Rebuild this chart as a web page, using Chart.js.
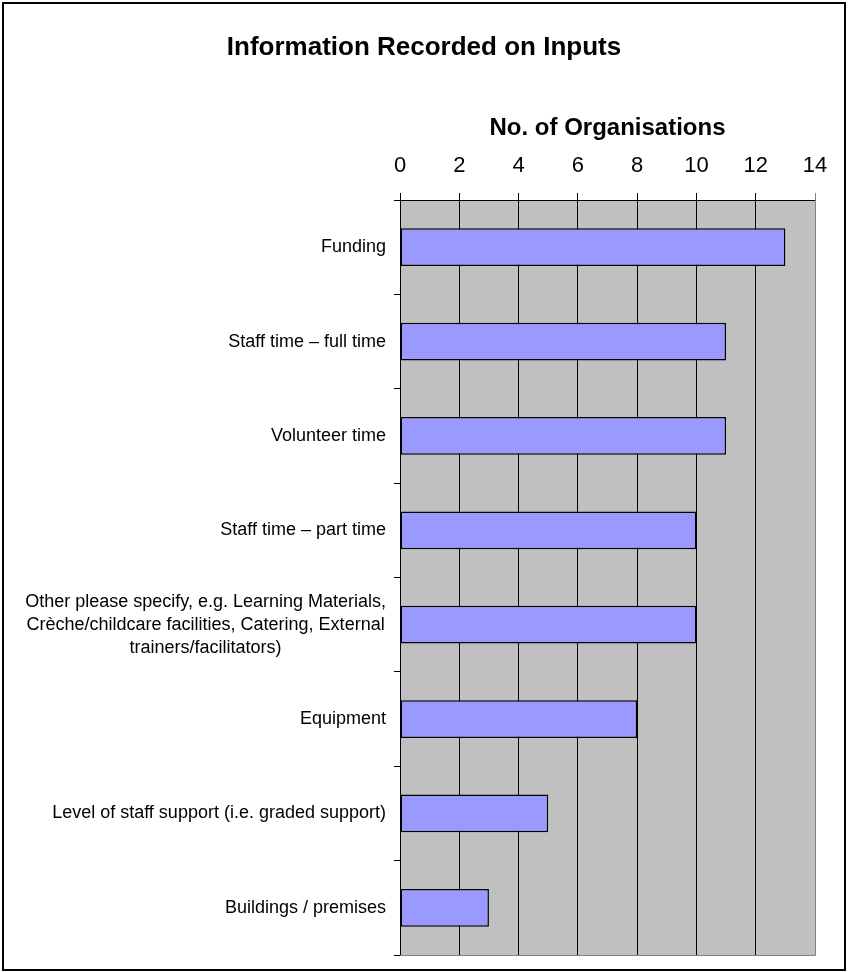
<!DOCTYPE html>
<html>
<head>
<meta charset="utf-8">
<title>Information Recorded on Inputs</title>
<script src="https://cdn.jsdelivr.net/npm/chart.js@4/dist/chart.umd.min.js"></script>
<style>
    html, body { margin: 0; padding: 0; background: #fff; }
    #wrap { position: relative; width: 848px; height: 972px; }
</style>
</head>
<body>
<div id="wrap"><canvas id="inputsChart"></canvas></div>
<script>
// Input types, top to bottom; the long one is pre-wrapped into lines
const categories = [
    'Funding',
    'Staff time \u2013 full time',
    'Volunteer time',
    'Staff time \u2013 part time',
    ['Other please specify, e.g. Learning Materials,',
     'Cr\u00e8che/childcare facilities, Catering, External',
     'trainers/facilitators)'],
    'Equipment',
    'Level of staff support (i.e. graded support)',
    'Buildings / premises'
];
const organisations = [13, 11, 11, 10, 10, 8, 5, 3];

// Value axis
const axisMin = 0;
const axisMax = 14;
const axisStep = 2;

const FONT = "'Liberation Sans', Arial, Helvetica, sans-serif";
const PLOT_BG = '#C0C0C0';
const PLOT_EDGE = '#808080';
const BAR_FILL = '#9999FF';

// Grey plot area, outer frame and the category labels (Excel-style wrap + centring)
const excelLook = {
    id: 'excelLook',
    beforeDraw(chart) {
        const { ctx, chartArea: a } = chart;
        ctx.save();
        ctx.fillStyle = PLOT_BG;
        ctx.fillRect(a.left, a.top, a.right - a.left, a.bottom - a.top);
        ctx.restore();
    },
    beforeDatasetsDraw(chart) {
        const { ctx, chartArea: a } = chart;
        ctx.save();
        ctx.strokeStyle = PLOT_EDGE;
        ctx.lineWidth = 1;
        ctx.beginPath();
        ctx.moveTo(a.right + 0.5, a.top);
        ctx.lineTo(a.right + 0.5, a.bottom + 0.5);
        ctx.lineTo(a.left, a.bottom + 0.5);
        ctx.stroke();
        ctx.restore();
    },
    afterDraw(chart) {
        const { ctx } = chart;
        const yScale = chart.scales.y;
        ctx.save();

        // category labels
        ctx.font = '18px ' + FONT;
        ctx.fillStyle = '#000';
        ctx.textAlign = 'center';
        ctx.textBaseline = 'middle';
        const rightEdge = 386;
        const lineGap = 23;
        categories.forEach((label, i) => {
            const lines = Array.isArray(label) ? label : [label];
            const widest = Math.max(...lines.map(l => ctx.measureText(l).width));
            const cx = rightEdge - widest / 2;
            const cy = yScale.getPixelForValue(i);
            const y0 = cy - (lines.length - 1) * lineGap / 2;
            lines.forEach((line, j) => ctx.fillText(line, cx, y0 + j * lineGap));
        });

        // chart frame
        ctx.strokeStyle = '#000';
        ctx.lineWidth = 2;
        ctx.strokeRect(3, 3, 842, 967);
        ctx.restore();
    }
};

const ctx = document.getElementById('inputsChart').getContext('2d');
const chart = new Chart(ctx, {
    type: 'bar',
    data: {
        labels: categories,
        datasets: [{
            label: 'No. of Organisations',
            data: organisations,
            backgroundColor: BAR_FILL,
            borderColor: '#000',
            borderWidth: 1.5,
            borderSkipped: false,
            barPercentage: 0.4,
            categoryPercentage: 1.0
        }]
    },
    options: {
        indexAxis: 'y',
        responsive: true,
        maintainAspectRatio: false,
        animation: false,
        layout: {
            padding: { left: 33, right: 33, top: 4, bottom: 17 }
        },
        plugins: {
            legend: { display: false },
            tooltip: { enabled: false },
            title: {
                display: true,
                text: 'Information Recorded on Inputs',
                color: '#000',
                font: { family: FONT, size: 26, weight: 'bold', lineHeight: 1.2 },
                padding: { top: 28, bottom: 20 }
            }
        },
        scales: {
            x: {
                position: 'top',
                min: axisMin,
                max: axisMax,
                ticks: {
                    stepSize: axisStep,
                    color: '#000',
                    padding: 14,
                    font: { family: FONT, size: 22 }
                },
                grid: {
                    color: c => (c.tick && c.tick.value === axisMax) ? PLOT_EDGE : '#000',
                    lineWidth: 1,
                    drawTicks: true,
                    tickLength: 7
                },
                border: { display: true, color: '#000', width: 1 },
                title: {
                    display: true,
                    text: 'No. of Organisations',
                    color: '#000',
                    font: { family: FONT, size: 24, weight: 'bold', lineHeight: 1.2 },
                    padding: { top: 31, bottom: 0 }
                },
                afterFit(scale) {
                    // 4 (pad) + 28 + 31.2 + 20 (title block) = 83.2 -> plot top at 200
                    scale.height = 116.8;
                }
            },
            y: {
                ticks: { display: false },
                grid: {
                    color: '#000',
                    drawOnChartArea: false,
                    drawTicks: true,
                    tickLength: 6,
                    offset: true
                },
                border: { display: true, color: '#000', width: 1 },
                afterFit(scale) {
                    // 33 (pad) + 367 -> plot left at 400
                    scale.width = 367;
                }
            }
        }
    },
    plugins: [excelLook]
});
</script>
</body>
</html>
